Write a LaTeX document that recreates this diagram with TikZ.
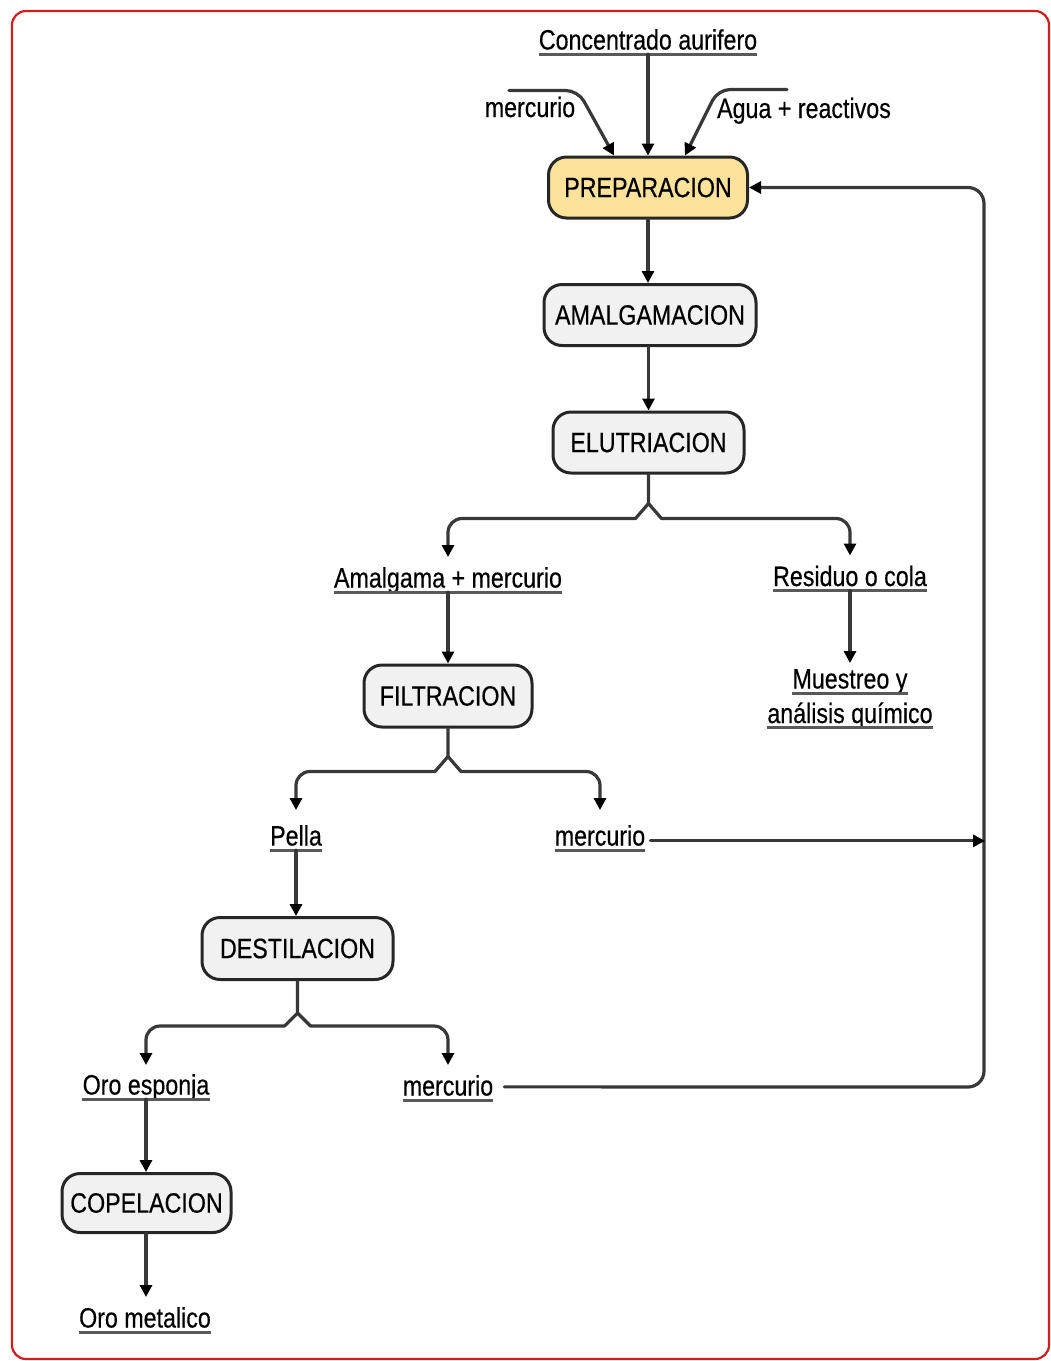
\documentclass[tikz,border=0pt]{standalone}
\usepackage{fontspec}
\setmainfont{Liberation Sans}[FakeStretch=0.83,FakeBold=0.4]
\usetikzlibrary{arrows.meta,calc}
\definecolor{framered}{RGB}{206,30,30}
\definecolor{prepfill}{RGB}{253,226,155}
\definecolor{boxfill}{RGB}{241,241,241}
\begin{document}
\begin{tikzpicture}[x=1pt,y=-1pt,
  font=\fontsize{28}{30}\selectfont,
  proc/.style={draw=black!85, line width=3pt, fill=boxfill, rounded corners=18pt,
    minimum height=61pt, inner sep=0pt},
  uline/.style={draw=black!65, line width=3.4pt, -},
  lbl/.style={inner sep=0pt, text depth=0pt, anchor=base,
    append after command={($(\tikzlastnode.south west)+(0,4.5)$) edge[uline] ($(\tikzlastnode.south east)+(0,4.5)$)}},
  plain/.style={inner sep=0pt, text depth=0pt, anchor=base},
  stem/.style={draw=black!78, line width=3.2pt, line cap=round, line join=round},
  conn/.style={stem, -{Triangle[length=12pt,width=12pt,color=black]}},
]
\useasboundingbox (0,0) rectangle (1051,1361);

% outer frame
\draw[framered, line width=2.2pt, rounded corners=14pt] (12,11) rectangle (1049,1359);

% process boxes
\node[proc, fill=prepfill, minimum width=199pt] (prep) at (648,187.5) {PREPARACION};
\node[proc, minimum width=212pt] (amal) at (650,315) {AMALGAMACION};
\node[proc, minimum width=191pt] (elut) at (648.5,442.5) {ELUTRIACION};
\node[proc, minimum width=168pt, minimum height=62pt] (filt) at (448,696) {FILTRACION};
\node[proc, minimum width=191pt, minimum height=62pt] (dest) at (297.5,948.5) {DESTILACION};
\node[proc, minimum width=169pt, minimum height=59pt] (cope) at (146.5,1203) {COPELACION};

% material labels
\node[lbl] (conc) at (648,49.5) {Concentrado aurifero};
\node[plain] (hgin) at (530,117) {mercurio};
\node[plain] (agua) at (804,118) {Agua + reactivos};
\node[lbl] (amlg) at (448,587.5) {Amalgama + mercurio};
\node[lbl] (resid) at (850,586) {Residuo o cola};
\node[lbl] (muestA) at (850,688.5) {Muestreo y};
\node[lbl] (muestB) at (850,723) {análisis químico};
\node[lbl] (pella) at (296,845.5) {Pella};
\node[lbl] (hgA) at (600,845.5) {mercurio};
\node[lbl] (esponja) at (146,1094.5) {Oro esponja};
\node[lbl] (hgB) at (448,1095.5) {mercurio};
\node[lbl] (metal) at (145,1327.5) {Oro metalico};

% feeds into the preparation step
\draw[conn] ($(conc.south)+(0,4.5)$) -- (prep.north);
\draw[conn, rounded corners=12pt] ($(hgin.north)+(-21,-6)$) -- ($(hgin.north)+(48,-6)$) -- ($(prep.north)+(-34,0)$);
\draw[conn, rounded corners=12pt] ($(agua.north)+(-17,-8)$) -- ($(agua.north)+(-86,-8)$) -- ($(prep.north)+(37,0)$);

% main line
\draw[conn] (prep.south) -- (prep.south |- amal.north);
\draw[conn] (elut.north |- amal.south) -- (elut.north);

% elutriation split
\draw[stem] (elut.south) -- ++(0,29) coordinate (j1) -- ++(-13,15) coordinate (j1l)
            (j1) -- ++(13,15) coordinate (j1r);
\draw[conn, rounded corners=14pt] (j1l) -| ($(amlg.north)+(0,-10)$);
\draw[conn, rounded corners=14pt] (j1r) -| ($(resid.north)+(0,-10)$);
\draw[conn] ($(resid.south)+(0,4.5)$) -- ($(muestA.north)+(0,-6)$);
\draw[conn] ($(amlg.south)+(0,4.5)$) -- (filt.north);

% filtration split
\draw[stem] (filt.south) -- ++(0,28) coordinate (j2) -- ++(-13,15) coordinate (j2l)
            (j2) -- ++(13,15) coordinate (j2r);
\draw[conn, rounded corners=14pt] (j2l) -| ($(pella.north)+(0,-15)$);
\draw[conn, rounded corners=14pt] (j2r) -| ($(hgA.north)+(0,-15)$);
\draw[conn] ($(pella.south)+(0,4.5)$) -- (pella.south |- dest.north);

% distillation split
\draw[stem] (dest.south) -- ++(0,32) coordinate (j3) -- ++(-13,13) coordinate (j3l)
            (j3) -- ++(13,13) coordinate (j3r);
\draw[conn, rounded corners=14pt] (j3l) -| ($(esponja.north)+(0,-9)$);
\draw[conn, rounded corners=14pt] (j3r) -| ($(hgB.north)+(0,-10)$);
\draw[conn] ($(esponja.south)+(0,4.5)$) -- (esponja.south |- cope.north);
\draw[conn] (esponja.south |- cope.south) -- ($(esponja.south |- metal.north)+(0,-10)$);

% mercury recycle loop
\coordinate (ret) at (984,1087);
\draw[conn, rounded corners=16pt] ($(hgB.east)+(11,1.5)$) -- (ret) |- (prep.east);
\draw[conn] ($(hgA.east)+(5,5.5)$) -- ($(ret |- hgA.east)+(1,5.5)$);
\end{tikzpicture}
\end{document}
